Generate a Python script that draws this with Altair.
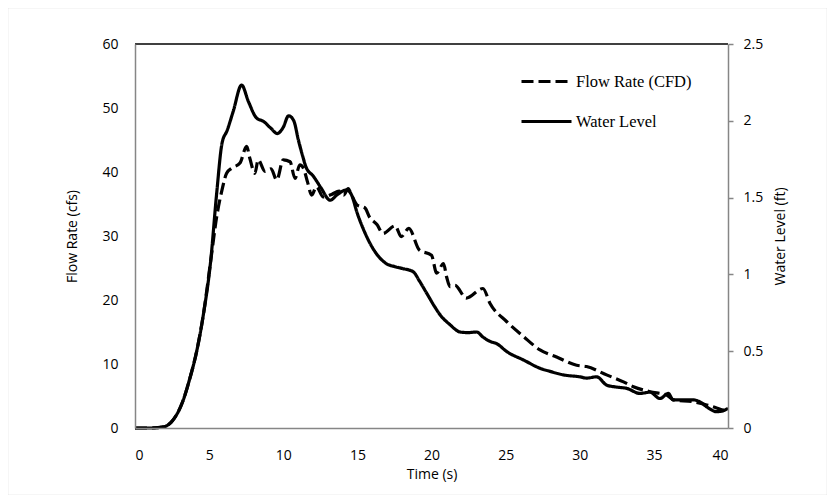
import altair as alt
import pandas as pd

# ---- data ----
time_flow = [0, 1.02, 1.94, 2.55, 3.26, 3.67, 4.18, 4.59, 5.10, 5.51,
             5.87, 6.18, 6.53, 7.08, 7.53, 7.75, 8.09, 8.31, 8.77, 9.18,
             9.56, 10.0, 10.46, 10.79, 11.12, 11.36, 11.63, 11.92, 12.24, 12.7,
             13.26, 13.77, 14.08, 14.38, 14.59, 15.0, 15.51, 15.81, 16.32, 16.73,
             17.55, 17.96, 18.47, 19.18, 20.0, 20.35, 20.81, 21.02, 21.25, 21.59,
             22.34, 23.47, 23.94, 25.08, 26.2, 27.32, 28.44, 29.79, 30.46, 31.81,
             32.95, 33.62, 34.74, 35.86, 36.32, 37.65, 38.56, 39.28, 39.7, 40.0]
flow_cfs = [0, 0, 0.2, 1.2, 4.4, 7.5, 12.2, 17.4, 26, 33,
            37.2, 39.8, 40.6, 41.4, 44.0, 42.1, 39.8, 41.9, 40.1, 40.5,
            38.75, 41.9, 41.6, 39.0, 41.1, 40.6, 38.5, 36.4, 37.7, 36.1,
            36.5, 37.0, 36.4, 37.4, 36.5, 34.8, 34.4, 33.0, 31.8, 30.4,
            31.6, 29.9, 31.2, 27.8, 27.0, 24.2, 25.7, 23.6, 22.1, 22.3,
            20.3, 21.8, 19.5, 16.6, 14.3, 12.2, 11.1, 9.8, 9.6, 8.3,
            7.2, 6.45, 5.67, 5.16, 4.4, 4.1, 3.6, 3.1, 2.8, 3.0]

time_level = [0, 1.02, 1.94, 2.55, 3.26, 3.67, 4.18, 4.59, 5.10, 5.51,
              5.87, 6.22, 6.63, 7.19, 7.65, 8.21, 8.67, 9.18, 9.59, 10.0,
              10.36, 10.71, 11.02, 11.32, 11.53, 12.04, 12.55, 13.16, 13.67, 14.28,
              14.59, 15.0, 15.51, 16.12, 16.94, 17.55, 18.06, 18.77, 19.18, 19.69,
              20.2, 20.61, 21.22, 21.93, 22.44, 23.06, 23.47, 23.97, 24.38, 25.1,
              26.22, 27.34, 28.06, 28.89, 30.02, 30.47, 31.14, 31.82, 32.44, 33.17,
              34.06, 34.74, 35.41, 35.97, 36.31, 37.0, 37.66, 38.16, 38.56, 39.24,
              39.69, 40.0]
level_ft = [0, 0, 0.008, 0.05, 0.183, 0.313, 0.508, 0.725, 1.083, 1.529,
            1.854, 1.938, 2.063, 2.233, 2.125, 2.017, 1.996, 1.95, 1.917, 1.958,
            2.033, 2.0, 1.875, 1.767, 1.7, 1.638, 1.563, 1.483, 1.521, 1.55,
            1.521, 1.396, 1.271, 1.158, 1.071, 1.05, 1.038, 1.017, 0.958, 0.875,
            0.792, 0.733, 0.675, 0.625, 0.621, 0.625, 0.592, 0.563, 0.55, 0.496,
            0.442, 0.388, 0.367, 0.346, 0.333, 0.325, 0.333, 0.279, 0.267, 0.258,
            0.225, 0.233, 0.192, 0.225, 0.183, 0.183, 0.183, 0.167, 0.138, 0.106,
            0.113, 0.129]

series_names = ["Flow Rate (CFD)", "Water Level"]
x_ticks = [0, 5, 10, 15, 20, 25, 30, 35, 40]
left_ticks = [0, 10, 20, 30, 40, 50, 60]
right_ticks = [0, 0.5, 1, 1.5, 2, 2.5]

flow_df = pd.DataFrame({"t": time_flow, "v": flow_cfs, "series": series_names[0]})
level_df = pd.DataFrame({"t": time_level, "v": level_ft, "series": series_names[1]})

W, H = 593, 384
AXIS_GRAY = "#868686"
SANS = "Open Sans"

dash = alt.StrokeDash(
    "series:N",
    scale=alt.Scale(domain=series_names, range=[[12, 5], [1, 0]]),
    legend=alt.Legend(
        title=None, orient="none", legendX=385, legendY=11,
        symbolType="stroke", symbolSize=2500, symbolStrokeWidth=3,
        symbolStrokeColor="black",
        labelFont="Liberation Serif", labelFontSize=16.5, labelColor="black",
        labelOffset=3, rowPadding=5, zindex=2,
    ),
)

x_enc = alt.X(
    "t:Q",
    scale=alt.Scale(domain=[0, 40], nice=False, zero=True),
    axis=alt.Axis(
        values=x_ticks, title="Time (s)", grid=False, ticks=False, zindex=1,
        domainColor=AXIS_GRAY, domainWidth=1.5,
        labelFont=SANS, labelFontSize=14, labelColor="black", labelPadding=20,
        titleFont=SANS, titleFontSize=14, titleFontWeight="normal", titleColor="black",
        titlePadding=5,
    ),
)

flow = alt.Chart(flow_df).mark_line(color="black", strokeWidth=3.2, interpolate="monotone").encode(
    x=x_enc,
    y=alt.Y(
        "v:Q",
        scale=alt.Scale(domain=[0, 60], nice=False),
        axis=alt.Axis(
            orient="left", values=left_ticks, title="Flow Rate (cfs)", grid=False, ticks=False,
            zindex=1, domainColor=AXIS_GRAY, domainWidth=1.5,
            labelFont=SANS, labelFontSize=14, labelColor="black", labelPadding=17,
            titleFont=SANS, titleFontSize=14, titleFontWeight="normal", titleColor="black",
            titleAngle=270, titleX=-63, titleY=H / 2, titleBaseline="middle",
        ),
    ),
    strokeDash=dash,
)

level = alt.Chart(level_df).mark_line(color="black", strokeWidth=3.2, interpolate="monotone").encode(
    x=x_enc,
    y=alt.Y(
        "v:Q",
        scale=alt.Scale(domain=[0, 2.5], nice=False),
        axis=alt.Axis(
            orient="right", values=right_ticks, format=".1~f", title="Water Level (ft)", grid=False,
            ticks=True, tickSize=5, tickColor=AXIS_GRAY, tickWidth=1.5, zindex=1,
            domainColor=AXIS_GRAY, domainWidth=1.5,
            labelFont=SANS, labelFontSize=14, labelColor="black", labelPadding=10,
            titleFont=SANS, titleFontSize=14, titleFontWeight="normal", titleColor="black",
            titleAngle=270, titleX=52, titleY=H / 2, titleBaseline="middle",
        ),
    ),
    strokeDash=dash,
)

one = pd.DataFrame({"k": [0]})
frame = alt.Chart(one).mark_rect(fill="white", stroke="#d9d9d9", strokeWidth=1.5).encode(
    x=alt.value(-127.5), x2=alt.value(692.5), y=alt.value(-36.5), y2=alt.value(451.5)
)
top_rule = alt.Chart(one).mark_rule(color="black", strokeWidth=1.5).encode(
    x=alt.value(0), x2=alt.value(W), y=alt.value(0)
)

chart = (
    alt.layer(frame, flow, level, top_rule)
    .resolve_scale(y="independent")
    .properties(
        width=W, height=H,
        padding={"left": 127, "top": 36, "right": 99, "bottom": 67},
        autosize=alt.AutoSizeParams(type="none"),
        background="white",
    )
    .configure_view(stroke=None)
)

chart.save("out.html", embed_options={"renderer": "svg", "actions": False})
